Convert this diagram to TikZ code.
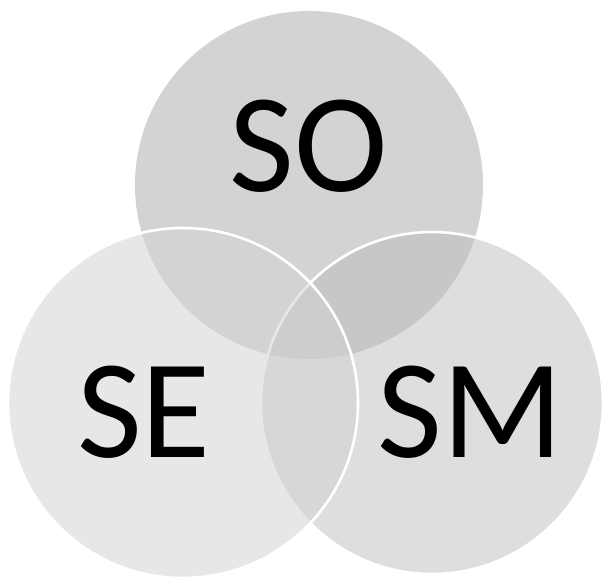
\documentclass[tikz,border=0pt]{standalone}
\usepackage{fontspec}
\setmainfont{Carlito}
\usetikzlibrary{positioning}
\definecolor{soFill}{RGB}{211,211,211}
\definecolor{smFill}{RGB}{186,186,186}
\definecolor{seFill}{RGB}{211,211,211}
\tikzset{
  setlabel/.style={inner sep=0pt,anchor=base,text=black},
  ring/.style={draw=white,line width=2.6pt}
}

\begin{document}
\begin{tikzpicture}[x=1pt,y=-1pt,font=\fontsize{141}{141}\selectfont]
\useasboundingbox (0,0) rectangle (603,579);
\coordinate (soc) at (309,185);
\coordinate (smc) at (432,403);
\coordinate (sec) at (183,403);
% circles, back to front
\fill[soFill] (soc) circle[radius=174pt];
\filldraw[ring,fill=smFill,fill opacity=0.477] (smc) circle[radius=171pt];
\filldraw[ring,fill=seFill,fill opacity=0.545] (sec) circle[radius=175pt];
% labels
\node[setlabel] (so) at (309,191) {SO};
\node[setlabel] (se) at (144,457) {SE};
\node[setlabel] (sm) at (470,457) {SM};
\end{tikzpicture}
\end{document}
